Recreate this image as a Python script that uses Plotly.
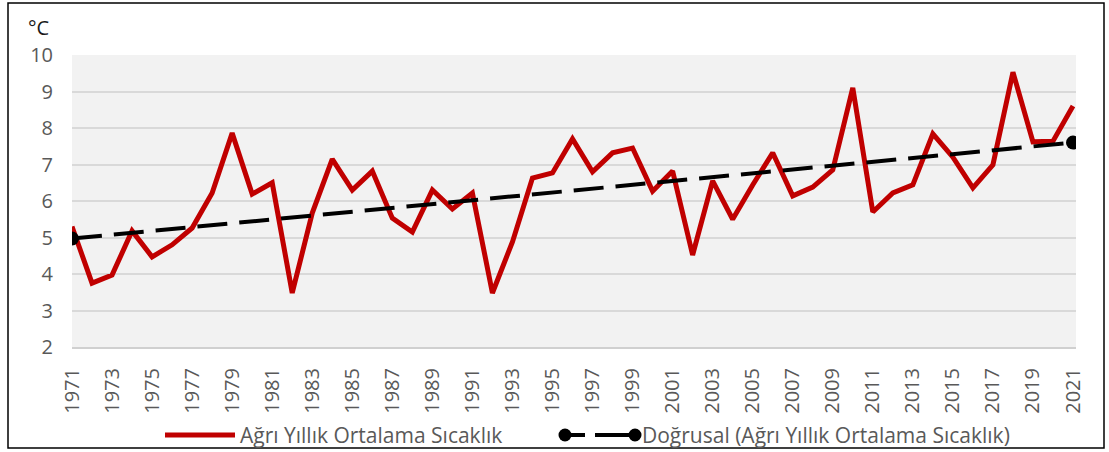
import plotly.graph_objects as go

# Annual mean temperature for Ağrı, 1971-2021 (°C)
years = list(range(1971, 2022))
temps = [5.30, 3.75, 3.97, 5.18, 4.47, 4.80, 5.26, 6.22, 7.86, 6.19,
         6.50, 3.48, 5.67, 7.15, 6.30, 6.82, 5.53, 5.15, 6.30, 5.78,
         6.22, 3.48, 4.88, 6.63, 6.77, 7.70, 6.80, 7.32, 7.45, 6.27,
         6.82, 4.52, 6.55, 5.50, 6.44, 7.32, 6.14, 6.38, 6.85, 9.10,
         5.70, 6.22, 6.44, 7.84, 7.20, 6.36, 6.99, 9.53, 7.62, 7.64,
         8.60]

# Linear trend end points
trend_years = [1971, 2021]
trend_vals = [4.97, 7.60]

y_ticks = list(range(2, 11))
x_ticks = years[::2]

series_name = "Ağrı Yıllık Ortalama Sıcaklık"
trend_name = "Doğrusal (Ağrı Yıllık Ortalama Sıcaklık)"

W, H = 1109, 452
L, R, T, B = 72, 33, 55, 105
PW, PH = W - L - R, H - T - B


def px(xp):
    return (xp - L) / PW


def py(yp):
    return (H - B - yp) / PH


RED = "#c00000"
GRAY_TXT = "#595959"
TICK_FONT = dict(family="Open Sans, sans-serif", size=20, color=GRAY_TXT)
LEG_FONT = dict(family="Open Sans, sans-serif", size=21, color=GRAY_TXT)
LEG_Y = 435

fig = go.Figure()
fig.add_trace(go.Scatter(
    x=years, y=temps, mode="lines", name=series_name,
    line=dict(color=RED, width=5), showlegend=False,
))
fig.add_trace(go.Scatter(
    x=trend_years, y=trend_vals, mode="lines+markers", name=trend_name,
    line=dict(color="black", width=4, dash="30px,12px"),
    marker=dict(color="black", size=14), showlegend=False,
))

shapes = [
    # outer frame
    dict(type="rect", xref="paper", yref="paper",
         x0=px(8), x1=px(1104), y0=py(448), y1=py(3),
         line=dict(color="black", width=1.5), layer="above"),
    # legend: series line
    dict(type="line", xref="paper", yref="paper",
         x0=px(165), x1=px(235), y0=py(LEG_Y), y1=py(LEG_Y),
         line=dict(color=RED, width=5)),
    # legend: trend line, drawn as two dashes
    dict(type="line", xref="paper", yref="paper",
         x0=px(565), x1=px(585), y0=py(LEG_Y), y1=py(LEG_Y),
         line=dict(color="black", width=4)),
    dict(type="line", xref="paper", yref="paper",
         x0=px(595), x1=px(635), y0=py(LEG_Y), y1=py(LEG_Y),
         line=dict(color="black", width=4)),
]
for cx in (565, 635):
    shapes.append(dict(type="circle", xref="paper", yref="paper",
                       x0=px(cx - 6.5), x1=px(cx + 6.5),
                       y0=py(LEG_Y + 6.5), y1=py(LEG_Y - 6.5),
                       fillcolor="black", line=dict(width=0)))

annotations = [
    dict(text="°C", xref="paper", yref="paper", x=px(26), y=py(27),
         xanchor="left", yanchor="middle", showarrow=False,
         font=dict(family="Open Sans, sans-serif", size=20, color="#1a1a1a")),
    dict(text=series_name, xref="paper", yref="paper", x=px(238), y=py(LEG_Y),
         xanchor="left", yanchor="middle", showarrow=False, font=LEG_FONT),
    dict(text=trend_name, xref="paper", yref="paper", x=px(640), y=py(LEG_Y),
         xanchor="left", yanchor="middle", showarrow=False, font=LEG_FONT),
]

fig.update_layout(
    width=W, height=H,
    margin=dict(l=L, r=R, t=T, b=B),
    paper_bgcolor="white", plot_bgcolor="#f2f2f2",
    shapes=shapes, annotations=annotations,
    showlegend=False,
)
fig.update_xaxes(
    range=[1971, 2021.15], tickmode="array", tickvals=x_ticks,
    ticktext=[str(v) for v in x_ticks], tickangle=-90, tickfont=TICK_FONT,
    showgrid=False, zeroline=False, showline=True, linecolor="#d0d0d0",
    linewidth=2, ticks="", ticklabelstandoff=11,
)
fig.update_yaxes(
    range=[2, 10], tickmode="array", tickvals=y_ticks, tickfont=TICK_FONT,
    showgrid=True, gridcolor="#d9d9d9", gridwidth=2, zeroline=False,
    showline=False, ticks="", ticklabelstandoff=18,
)

fig.write_html("out.html")
